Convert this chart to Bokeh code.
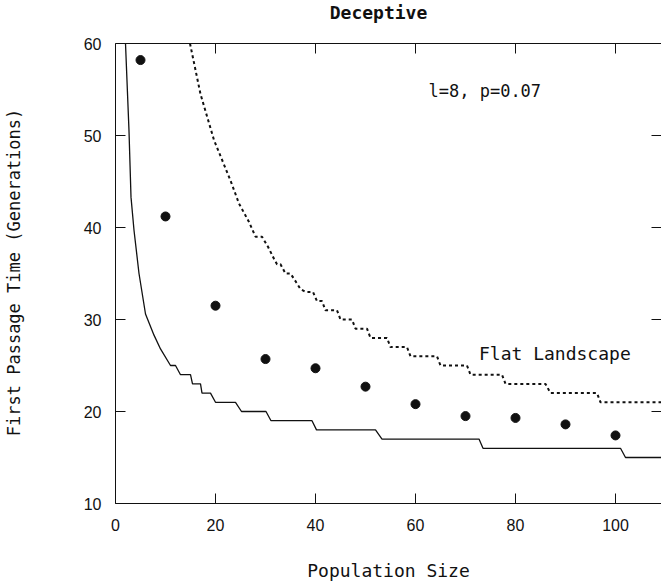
import math
from bokeh.plotting import figure
from bokeh.models import Range1d, LinearAxis, Label, FixedTicker, Span
from bokeh.embed import file_html
from bokeh.resources import INLINE

# GA simulation points (population size vs first passage time)
pop_size = [5, 10, 20, 30, 40, 50, 60, 70, 80, 90, 100]
passage_time = [58.2, 41.2, 31.5, 25.7, 24.7, 22.7, 20.8, 19.5, 19.3, 18.6, 17.4]

# lower (solid) curve
lower_x = [2.0, 2.7, 3.1, 3.7, 4.7, 6.0, 7.7, 9.0, 11.0, 12.0, 13.0, 15.0, 15.4, 17.0,
           17.3, 19.0, 20.0, 24.0, 25.2, 30.1, 31.1, 39.3, 40.2, 52.0, 53.3, 72.7,
           73.5, 101.0, 102.0, 112.0]
lower_y = [60.0, 50.5, 43.3, 39.7, 35.0, 30.6, 28.3, 26.8, 25.0, 25.0, 24.0, 24.0, 23.0, 23.0,
           22.0, 22.0, 21.0, 21.0, 20.0, 20.0, 19.0, 19.0, 18.0, 18.0, 17.0, 17.0,
           16.0, 16.0, 15.0, 15.0]

# flat landscape (dotted) curve
flat_x = [14.9, 17.0, 19.7, 23.0, 24.7, 26.7, 28.0, 29.3, 30.5, 31.7, 32.3, 33.0, 34.0, 35.0,
          36.2, 37.0, 38.0, 39.5, 40.3, 41.3, 42.0, 44.3, 45.0, 47.3, 48.0, 50.3, 51.0, 54.3,
          55.0, 58.3, 59.0, 64.3, 65.0, 70.3, 71.0, 77.3, 78.0, 86.0, 87.0, 96.3, 97.0, 112.0]
flat_y = [60.0, 54.5, 49.5, 45.1, 42.6, 40.6, 39.0, 39.0, 37.9, 36.6, 36.0, 36.0, 35.0, 35.0,
          34.0, 33.3, 33.0, 33.0, 32.0, 32.0, 31.0, 31.0, 30.0, 30.0, 29.0, 29.0, 28.0, 28.0,
          27.0, 27.0, 26.0, 26.0, 25.0, 25.0, 24.0, 24.0, 23.0, 23.0, 22.0, 22.0, 21.0, 21.0]

x_ticks = [0, 20, 40, 60, 80, 100]
y_ticks = [10, 20, 30, 40, 50, 60]
y_min, y_max = 10, 60

INK = "#111111"
MONO = "DejaVu Sans Mono"
NBSP = "\u00a0"

# the frame extends above y=60 so the title can sit inside it; the box top is drawn at y=60
p = figure(width=661, height=585, output_backend="svg", toolbar_location=None,
           x_range=Range1d(0, 109.2), y_range=Range1d(y_min, y_min + 503 / 9.2),
           min_border_left=115, min_border_right=0, min_border_top=0, min_border_bottom=82,
           background_fill_color="white", border_fill_color="white")
p.grid.visible = False
p.outline_line_color = None

for ax in (p.xaxis[0], p.yaxis[0]):
    ax.major_tick_in = 10
    ax.major_tick_out = 0
    ax.minor_tick_line_color = None
    ax.axis_line_color = INK
    ax.major_tick_line_color = INK
    ax.major_label_text_font = "Liberation Sans"
    ax.major_label_text_font_size = "16px"
    ax.major_label_text_color = INK
    ax.axis_label_text_font = MONO
    ax.axis_label_text_font_style = "normal"
    ax.axis_label_text_color = INK

p.xaxis[0].ticker = FixedTicker(ticks=x_ticks)
p.yaxis[0].ticker = FixedTicker(ticks=y_ticks)
p.yaxis[0].bounds = (y_min, y_max)
p.xaxis[0].axis_label = "Population Size"
# trailing non-breaking spaces centre the visible label on the 10-60 box
p.yaxis[0].axis_label = "First Passage Time (Generations)" + NBSP * 4
p.xaxis[0].axis_label_text_font_size = "18px"
p.yaxis[0].axis_label_text_font_size = "17px"
p.xaxis[0].major_label_standoff = 15
p.xaxis[0].axis_label_standoff = 26
p.yaxis[0].major_label_standoff = 14
p.yaxis[0].axis_label_standoff = 57

right = LinearAxis(ticker=FixedTicker(ticks=y_ticks), bounds=(y_min, y_max),
                   major_tick_in=10, major_tick_out=0,
                   minor_tick_line_color=None, axis_line_color=INK, major_tick_line_color=INK,
                   major_label_overrides={t: "" for t in y_ticks}, major_label_standoff=0)
p.add_layout(right, "right")

# top border of the box and its inward ticks
p.add_layout(Span(location=y_max, dimension="width", line_color=INK, line_width=1))
p.ray(x=x_ticks, y=[y_max] * len(x_ticks), length=10, length_units="screen",
      angle=-math.pi / 2, line_color=INK, line_width=1)

p.line(lower_x, lower_y, line_color=INK, line_width=1.3)
p.line(flat_x, flat_y, line_color=INK, line_width=2, line_dash="3 3")
p.scatter(pop_size, passage_time, size=9, fill_color=INK, line_color=INK)

# chart title
p.add_layout(Label(x=52.6, y=63.35, text="Deceptive", text_font=MONO,
                   text_font_size="18px", text_font_style="bold", text_color=INK,
                   text_align="center", text_baseline="alphabetic"))
p.add_layout(Label(x=62.6, y=53.8, text="l=8, p=0.07", text_font=MONO,
                   text_font_size="17px", text_color=INK, text_baseline="bottom"))
p.add_layout(Label(x=72.7, y=25.2, text="Flat Landscape", text_font=MONO,
                   text_font_size="18px", text_color=INK, text_baseline="bottom"))

open("out.html", "w").write(file_html(p, INLINE))
